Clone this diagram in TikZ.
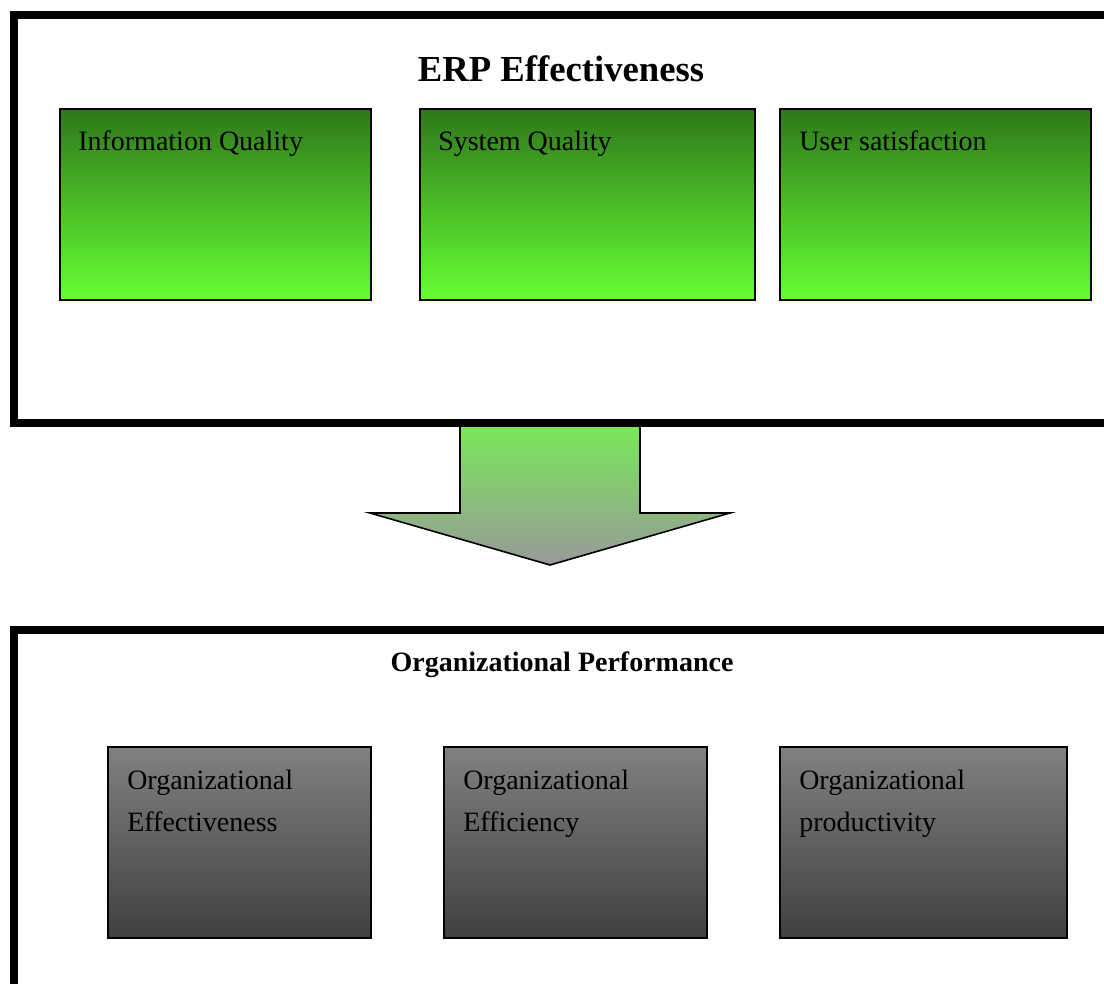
\documentclass[tikz,border=0pt]{standalone}
\usepackage{fontspec}
\setmainfont{Liberation Serif}
\usetikzlibrary{calc}

\definecolor{gtop}{RGB}{46,120,26}
\definecolor{gbot}{RGB}{102,255,51}
\definecolor{ktop}{RGB}{128,128,128}
\definecolor{kbot}{RGB}{64,64,64}
\definecolor{atop}{RGB}{119,236,85}
\definecolor{abot}{RGB}{153,153,153}

\begin{document}
\begin{tikzpicture}[
    x=0.75pt, y=-0.75pt,
    frame/.style={draw, line width=6pt, anchor=north west, inner sep=0pt},
    greenbox/.style={draw, line width=1.2pt, top color=gtop, bottom color=gbot,
      anchor=north west, minimum height=143.5pt, inner sep=0pt},
    greybox/.style={draw, line width=1.2pt, top color=ktop, bottom color=kbot,
      anchor=north west, minimum height=143.5pt, inner sep=0pt},
    lbl/.style={anchor=base west, inner sep=0pt, align=left,
      font=\fontsize{21pt}{31.5pt}\selectfont},
  ]
    \useasboundingbox (0,0) rectangle (1104,983);
    \clip (0,0) rectangle (1104,983);

    % Block arrow between the two frames
    \draw[line width=1.2pt, line join=miter, top color=atop, bottom color=abot]
      (460,419) -- (460,513) -- (370,513) -- (550,565)
      -- (730,513) -- (640,513) -- (640,419);

    % Outer frames (run off the right and bottom edges)
    \node[frame, minimum width=840pt, minimum height=306pt] (erp) at (10,11) {};
    \node[frame, minimum width=840pt, minimum height=300pt] (perf) at (10,626) {};

    \node[anchor=base, font=\fontsize{27.5pt}{33pt}\selectfont\bfseries] (erpt) at (561,81)
      {ERP Effectiveness};
    \node[anchor=base, font=\fontsize{21pt}{25pt}\selectfont\bfseries] (perft) at (562,671)
      {Organizational Performance};

    % ERP effectiveness dimensions
    \node[greenbox, minimum width=233.5pt] (iq) at (59,108) {};
    \node[greenbox, minimum width=251.5pt] (sq) at (419,108) {};
    \node[greenbox, minimum width=233.5pt] (us) at (779,108) {};

    \node[lbl] (iqt) at ($(iq.north west)+(19,42)$) {Information Quality};
    \node[lbl] (sqt) at ($(sq.north west)+(19,42)$) {System Quality};
    \node[lbl] (ust) at ($(us.north west)+(20,42)$) {User satisfaction};

    % Performance dimensions (base anchor sits on the second line)
    \node[greybox, minimum width=197.5pt] (oe) at (107,746) {};
    \node[greybox, minimum width=197.5pt] (of) at (443,746) {};
    \node[greybox, minimum width=215.5pt] (op) at (779,746) {};

    \node[lbl] (oet) at ($(oe.north west)+(20,85)$) {Organizational\\Effectiveness};
    \node[lbl] (oft) at ($(of.north west)+(20,85)$) {Organizational\\Efficiency};
    \node[lbl] (opt) at ($(op.north west)+(20,85)$) {Organizational\\productivity};
\end{tikzpicture}
\end{document}
